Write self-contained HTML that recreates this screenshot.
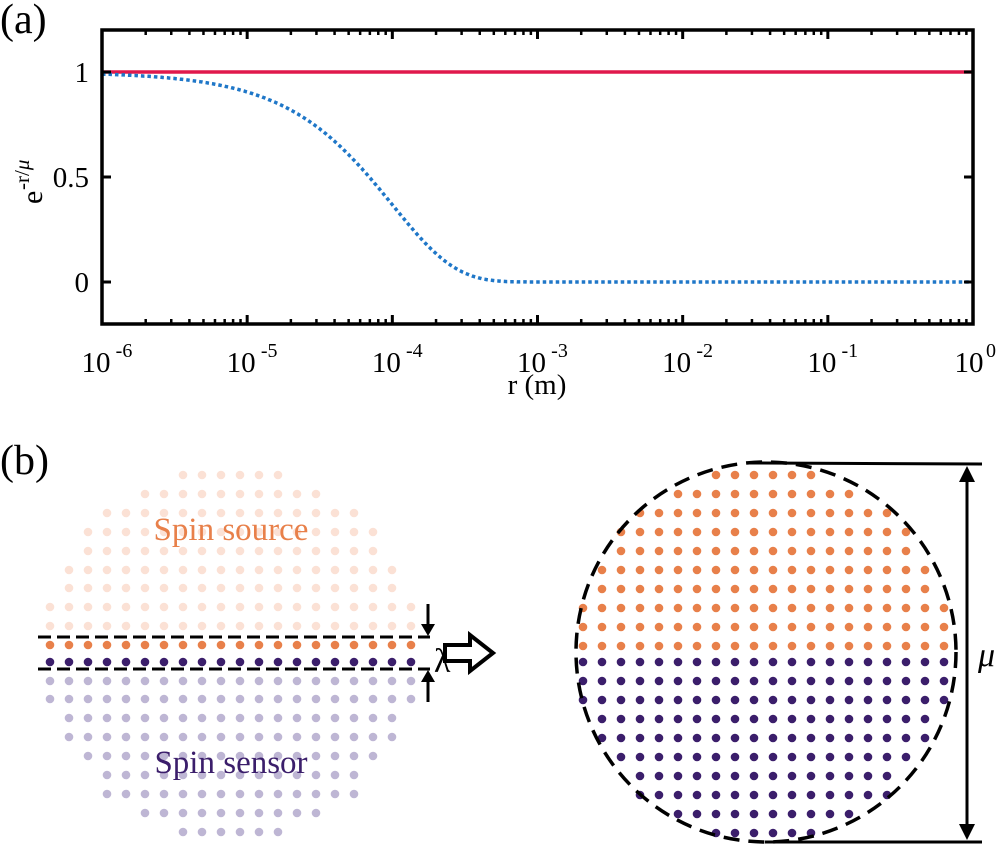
<!DOCTYPE html>
<html><head><meta charset="utf-8"><style>
html,body{margin:0;padding:0;background:#fff;}
svg{display:block;}
text{font-family:"Liberation Serif",serif;}
.t27{font-size:29px;}
</style></head><body>
<svg id="s" width="1000" height="845" viewBox="0 0 1000 845" xmlns="http://www.w3.org/2000/svg">
<text x="0" y="33" style="font-size:42px">(a)</text>
<text x="0" y="474" style="font-size:42px">(b)</text>
<g id="plot"></g>
<text x="89" y="82" class="t27" text-anchor="end">1</text>
<text x="89" y="187" class="t27" text-anchor="end">0.5</text>
<text x="89" y="292" class="t27" text-anchor="end">0</text>
<g transform="translate(42,204) rotate(-90)">
<text x="0" y="0" style="font-size:30px">e</text>
<text x="14" y="-13" style="font-size:21px">-r/<tspan style="font-style:italic">μ</tspan></text>
</g>
<g class="t27" text-anchor="middle" id="xl"></g>
<text x="537" y="394" class="t27" text-anchor="middle">r (m)</text>
<g id="dots"></g>
<text x="231" y="540" style="font-size:33px" fill="#E8804A" text-anchor="middle">Spin source</text>
<text x="231" y="773" style="font-size:33px" fill="#3B1E6B" text-anchor="middle">Spin sensor</text>
<g stroke="#000" stroke-width="3" fill="none">
<line x1="38" y1="637" x2="430" y2="637" stroke-dasharray="13,6"/>
<line x1="38" y1="669" x2="430" y2="669" stroke-dasharray="13,6"/>
<line x1="428" y1="604" x2="428" y2="626"/>
<line x1="428" y1="680" x2="428" y2="702"/>
<circle cx="766" cy="652" r="190" stroke-dasharray="16,9" stroke-width="3.5"/>
<line x1="750" y1="463" x2="982" y2="464"/>
<line x1="765" y1="842" x2="982" y2="842"/>
<line x1="967" y1="480" x2="967" y2="826"/>
<path d="M445 645 H470 V635 L493 653 L470 671 V661 H445 Z" stroke-width="4"/>
</g>
<g fill="#000">
<path d="M421 624 L435 624 L428 636 Z"/>
<path d="M421 682 L435 682 L428 670 Z"/>
<path d="M959 482 L975 482 L967 466 Z"/>
<path d="M959 824 L975 824 L967 840 Z"/>
</g>
<text x="434" y="672" style="font-size:34px">λ</text>
<text x="978" y="666" style="font-size:34px;font-style:italic">μ</text>
</svg>
<script>
const NS="http://www.w3.org/2000/svg";
function el(p,t,a,txt){const e=document.createElementNS(NS,t);for(const k in a)e.setAttribute(k,a[k]);if(txt)e.textContent=txt;p.appendChild(e);return e;}
const P=document.getElementById('plot');
const L=102,R=973,T=30,B=324;
const X=r=>L+(Math.log10(r)+6)*145.17;
const Y=v=>282-v*210;
el(P,'line',{x1:L,y1:Y(1),x2:R,y2:Y(1),stroke:'#E0184C','stroke-width':3.5});
let d='';for(let i=0;i<=600;i++){const lr=-6+6*i/600,r=Math.pow(10,lr);const v=Math.exp(-r/1e-4);d+=(i?'L':'M')+X(r).toFixed(1)+' '+Y(v).toFixed(1);}
el(P,'path',{d:d,fill:'none',stroke:'#1F77C8','stroke-width':3.5,'stroke-dasharray':'3.5,3'});
for(let e=-6;e<=0;e++){const x=X(Math.pow(10,e));
 el(P,'line',{x1:x,y1:B,x2:x,y2:B-9,stroke:'#000','stroke-width':3});
 el(P,'line',{x1:x,y1:T,x2:x,y2:T+9,stroke:'#000','stroke-width':3});
 if(e<0)for(let m=2;m<=9;m++){const xm=X(m*Math.pow(10,e));
  el(P,'line',{x1:xm,y1:B,x2:xm,y2:B-5,stroke:'#000','stroke-width':2.5});
  el(P,'line',{x1:xm,y1:T,x2:xm,y2:T+5,stroke:'#000','stroke-width':2.5});}
 const g=document.getElementById('xl');
 const dx=e<0?-6:-4;
 el(g,'text',{x:x+dx,y:372,style:'font-size:29px'},'10');
 el(g,'text',{x:x+dx+22+(e<0?6:0),y:357,style:'font-size:20px','text-anchor':'middle'},e<0?'-'+(-e):'0');
}
[1,0.5,0].forEach(v=>{el(P,'line',{x1:L,y1:Y(v),x2:L+9,y2:Y(v),stroke:'#000','stroke-width':3});el(P,'line',{x1:R,y1:Y(v),x2:R-9,y2:Y(v),stroke:'#000','stroke-width':3});});
el(P,'rect',{x:L,y:T,width:R-L,height:B-T,fill:'none',stroke:'#000','stroke-width':3.5});
const D=document.getElementById('dots');
const rng=[[7,12],[5,14],[3,16],[2,17],[2,17],[1,18],[1,18],[0,19],[0,19],[0,19],[0,19],[0,19],[0,19],[1,18],[1,18],[2,17],[3,16],[3,16],[5,14],[7,12]];
const ly=[475,494,513,532,551,570,588,607,626,645,662,681,699,718,737,756,775,794,813,832];
rng.forEach((r,j)=>{for(let i=r[0];i<=r[1];i++){
 let c;if(j<9)c='#FBE1D5';else if(j==9)c='#E8804A';else if(j==10)c='#3B1E6B';else c='#BEB6D4';
 el(D,'circle',{cx:50+19*i,cy:ly[j],r:4.3,fill:c});
 const ry=j<10?475+19*j:662+19*(j-10);
 el(D,'circle',{cx:583+19*i,cy:ry,r:4.3,fill:j<10?'#E8804A':'#3B1E6B'});
}});
</script>
</body></html>
